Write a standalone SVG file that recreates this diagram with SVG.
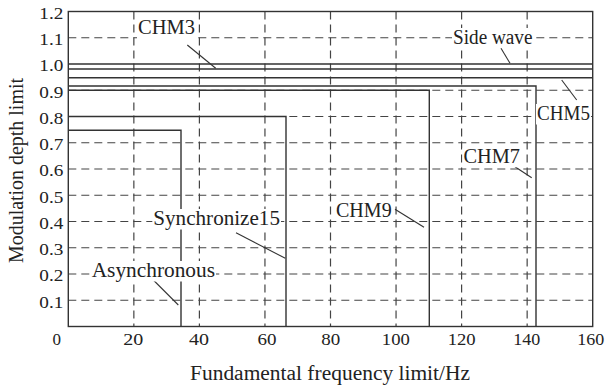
<svg xmlns="http://www.w3.org/2000/svg" width="607" height="389" viewBox="0 0 607 389">
<style>
.lbl{font-size:20px;fill:#222}
.tick{font-size:17px;fill:#222}
.grid{stroke:#444;stroke-width:1.2;stroke-dasharray:8 5;fill:none}
.solid{stroke:#333;stroke-width:1.4;fill:none}
.lead{stroke:#333;stroke-width:1.1;fill:none}
.bg{fill:#fff}
</style>
<rect width="607" height="389" fill="#fff"/>
<g id="hgrid">
<path class="grid" d="M68.3 300.25H592.7M68.3 274H592.7M68.3 247.75H592.7M68.3 221.5H592.7M68.3 195.25H592.7M68.3 169H592.7M68.3 142.75H592.7M68.3 116.5H592.7M68.3 90.25H592.7M68.3 37.75H592.7"/>
</g>
<g id="vgrid">
<path class="grid" d="M133.85 11.5V326.5M199.4 11.5V326.5M264.95 11.5V326.5M330.5 11.5V326.5M396.05 11.5V326.5M461.6 11.5V326.5M527.15 11.5V326.5"/>
</g>
<g id="curves">
<path class="solid" d="M68.3 64H592.7M68.3 69H592.7M68.3 77.7H592.7"/>
<path class="solid" d="M68.3 86H536V326.5"/>
<path class="solid" d="M68.3 90.3H429.3V326.5"/>
<path class="solid" d="M68.3 116.5H286V326.5"/>
<path class="solid" d="M68.3 130.3H181V326.5"/>
</g>
<rect class="solid" x="68.3" y="11.5" width="524.4" height="315"/>
<g id="connectors">
<path class="lead" d="M187.3 45L215.7 68.3"/>
<path class="lead" d="M501 48.3L510 63.3"/>
<path class="lead" d="M561.7 80L576.7 100"/>
<path class="lead" d="M515 166.7L531.7 177.7"/>
<path class="lead" d="M395 209.3L424 227.3"/>
<path class="lead" d="M236 232.7L285.3 258.3"/>
<path class="lead" d="M153.3 280L178.3 305"/>
</g>
<g font-family="Liberation Serif, Times New Roman, DejaVu Serif, serif">
<g id="chm3"><rect class="bg" x="137" y="18" width="59" height="21"/><text class="lbl" x="138" y="34" textLength="57" lengthAdjust="spacingAndGlyphs">CHM3</text></g>
<g id="sidewave"><rect class="bg" x="452" y="28" width="82" height="20"/><text class="lbl" x="453" y="43.5" textLength="79.5" lengthAdjust="spacingAndGlyphs">Side wave</text></g>
<g id="chm5"><rect class="bg" x="536" y="104" width="55" height="20.5"/><text class="lbl" x="537" y="120" textLength="53" lengthAdjust="spacingAndGlyphs">CHM5</text></g>
<g id="chm7"><rect class="bg" x="462.5" y="148" width="58.5" height="19.3"/><text class="lbl" x="463.5" y="163.3" textLength="56.5" lengthAdjust="spacingAndGlyphs">CHM7</text></g>
<g id="chm9"><rect class="bg" x="335" y="201" width="57.7" height="19.7"/><text class="lbl" x="336" y="216.7" textLength="55.7" lengthAdjust="spacingAndGlyphs">CHM9</text></g>
<g id="sync15"><rect class="bg" x="152.3" y="209" width="128.7" height="20.5"/><text class="lbl" x="153.3" y="225" textLength="126.7" lengthAdjust="spacingAndGlyphs">Synchronize15</text></g>
<g id="async"><rect class="bg" x="90.7" y="261" width="125.3" height="20.5"/><text class="lbl" x="91.7" y="276.7" textLength="123.3" lengthAdjust="spacingAndGlyphs">Asynchronous</text></g>
<g id="yticks" text-anchor="end">
<text class="tick" x="63.3" y="19" textLength="24" lengthAdjust="spacingAndGlyphs">1.2</text>
<text class="tick" x="63.3" y="45" textLength="24" lengthAdjust="spacingAndGlyphs">1.1</text>
<text class="tick" x="63.3" y="71.3" textLength="24" lengthAdjust="spacingAndGlyphs">1.0</text>
<text class="tick" x="63.3" y="97.5" textLength="24" lengthAdjust="spacingAndGlyphs">0.9</text>
<text class="tick" x="63.3" y="123.5" textLength="24" lengthAdjust="spacingAndGlyphs">0.8</text>
<text class="tick" x="63.3" y="150" textLength="24" lengthAdjust="spacingAndGlyphs">0.7</text>
<text class="tick" x="63.3" y="176.2" textLength="24" lengthAdjust="spacingAndGlyphs">0.6</text>
<text class="tick" x="63.3" y="202.5" textLength="24" lengthAdjust="spacingAndGlyphs">0.5</text>
<text class="tick" x="63.3" y="228.7" textLength="24" lengthAdjust="spacingAndGlyphs">0.4</text>
<text class="tick" x="63.3" y="255" textLength="24" lengthAdjust="spacingAndGlyphs">0.3</text>
<text class="tick" x="63.3" y="281.2" textLength="24" lengthAdjust="spacingAndGlyphs">0.2</text>
<text class="tick" x="63.3" y="307.5" textLength="24" lengthAdjust="spacingAndGlyphs">0.1</text>
</g>
<g id="xticks" text-anchor="middle">
<text class="tick" x="56.7" y="345">0</text>
<text class="tick" x="133.3" y="345" textLength="20" lengthAdjust="spacingAndGlyphs">20</text>
<text class="tick" x="199" y="345" textLength="20" lengthAdjust="spacingAndGlyphs">40</text>
<text class="tick" x="267" y="345" textLength="19" lengthAdjust="spacingAndGlyphs">60</text>
<text class="tick" x="330.8" y="345" textLength="19" lengthAdjust="spacingAndGlyphs">80</text>
<text class="tick" x="395.8" y="345" textLength="28" lengthAdjust="spacingAndGlyphs">100</text>
<text class="tick" x="461.7" y="345" textLength="28" lengthAdjust="spacingAndGlyphs">120</text>
<text class="tick" x="526.7" y="345" textLength="27" lengthAdjust="spacingAndGlyphs">140</text>
<text class="tick" x="590.7" y="345" textLength="27" lengthAdjust="spacingAndGlyphs">160</text>
</g>
<text class="lbl" x="190" y="380" textLength="280" lengthAdjust="spacingAndGlyphs">Fundamental frequency limit/Hz</text>
<text class="lbl" transform="translate(23.3 263) rotate(-90)" x="0" y="0" textLength="185" lengthAdjust="spacingAndGlyphs">Modulation depth limit</text>
</g>
</svg>
